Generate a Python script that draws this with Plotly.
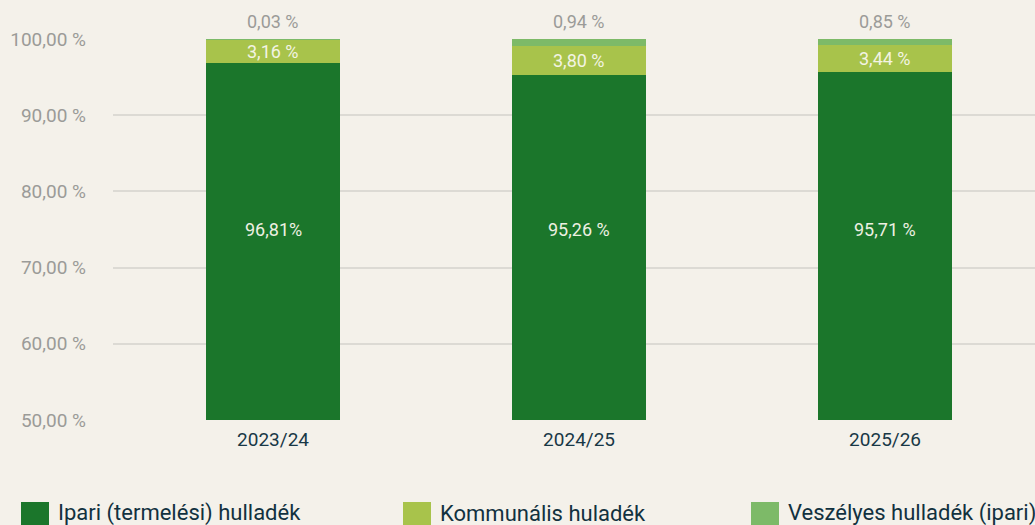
import plotly.graph_objects as go

categories = ["2023/24", "2024/25", "2025/26"]
series_names = ["Ipari (termelési) hulladék", "Kommunális huladék", "Veszélyes hulladék (ipari)"]
ipari = [96.81, 95.26, 95.71]
kommunalis = [3.16, 3.80, 3.44]
veszelyes = [0.03, 0.94, 0.85]
big_labels = ["96,81%", "95,26 %", "95,71 %"]
mid_labels = ["3,16 %", "3,80 %", "3,44 %"]
top_labels = ["0,03 %", "0,94 %", "0,85 %"]
tick_vals = [50, 60, 70, 80, 90, 100]
tick_text = ["50,00 %", "60,00 %", "70,00 %", "80,00 %", "90,00 %", "100,00 %"]

colors = ["#1b762b", "#a8c34b", "#7dba68"]
BG = "#f4f1ea"
FONT = "Roboto"
W, H = 1035, 525
ML, MR, MT, MB = 113, 0, 39, 105
Y0, Y1 = 50, 100

fig = go.Figure()
for name, vals, col in zip(series_names, [ipari, kommunalis, veszelyes], colors):
    fig.add_trace(go.Bar(x=categories, y=vals, name=name, marker=dict(color=col, line=dict(width=0)),
                         width=0.44, showlegend=False, hoverinfo="skip"))

ann = []
for i, c in enumerate(categories):
    top = ipari[i] + kommunalis[i] + veszelyes[i]
    ann.append(dict(x=c, y=(Y0 + Y1) / 2, text=big_labels[i], showarrow=False, xref="x", yref="y",
                    font=dict(family=FONT, size=18, color="#eef0e2")))
    ann.append(dict(x=c, y=ipari[i] + kommunalis[i] / 2, text=mid_labels[i], showarrow=False, xref="x", yref="y",
                    font=dict(family=FONT, size=18, color="#f3f4e4")))
    ann.append(dict(x=c, y=top, text=top_labels[i], showarrow=False, xref="x", yref="y",
                    yanchor="bottom", yshift=5, font=dict(family=FONT, size=18, color="#9b9b98")))

pw = W - ML - MR
ph = H - MT - MB
def px2x(px):
    return (px - ML) / pw
def px2y(py):
    return 1 - (py - MT) / ph

shapes = []
leg_x = [21, 403, 751]
for lx, name, col in zip(leg_x, series_names, colors):
    shapes.append(dict(type="rect", xref="paper", yref="paper", x0=px2x(lx), x1=px2x(lx + 28),
                       y0=px2y(532), y1=px2y(502), fillcolor=col, line=dict(width=0), layer="above"))
    ann.append(dict(x=px2x(lx + 35), y=px2y(513), xref="paper", yref="paper", text=name, showarrow=False,
                    xanchor="left", yanchor="middle", font=dict(family=FONT, size=22, color="#12313f")))

fig.update_layout(
    width=W, height=H,
    margin=dict(l=ML, r=MR, t=MT, b=MB),
    paper_bgcolor=BG, plot_bgcolor=BG,
    barmode="stack",
    showlegend=False,
    annotations=ann,
    shapes=shapes,
    xaxis=dict(range=[-0.523, 2.49], showgrid=False, zeroline=False, showline=False, ticks="",
               ticklabelstandoff=6, tickfont=dict(family=FONT, size=19, color="#183846")),
    yaxis=dict(range=[Y0, Y1], tickvals=tick_vals, ticktext=tick_text, showgrid=True,
               gridcolor="#dcdad4", gridwidth=2, zeroline=False, showline=False, ticks="",
               ticklabelstandoff=26, tickfont=dict(family=FONT, size=19, color="#9b9b98")),
)

fig.write_html("out.html", config={"displayModeBar": False},
               post_script="document.body.style.margin='0';document.body.style.overflow='hidden';document.body.style.background='" + BG + "';")
